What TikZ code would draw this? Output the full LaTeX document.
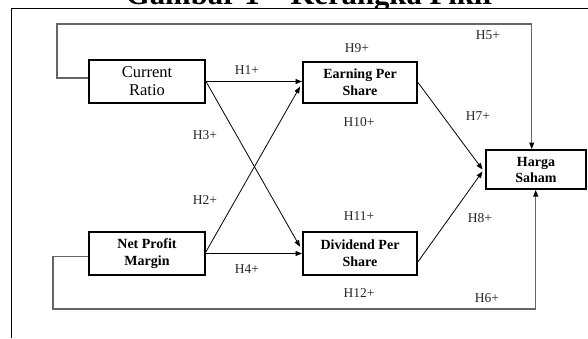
\documentclass[tikz,border=0pt]{standalone}
\usepackage{fontspec}
\setmainfont{Liberation Serif}
\usetikzlibrary{arrows.meta}
\begin{document}
\begin{tikzpicture}[x=1pt,y=-1pt,
  box/.style={draw, line width=2.4pt, inner sep=0pt, align=center},
  boxb/.style={box, font=\fontsize{14}{17}\selectfont\bfseries},
  boxr/.style={box, font=\fontsize{16.5}{18}\selectfont},
  lbl/.style={font=\fontsize{13.5}{14}\selectfont, text=black!85, inner sep=0pt},
  arr/.style={line width=0.8pt, -{Triangle[length=6.5pt,width=5pt]}},
  fb/.style={line width=1.1pt, draw=black!60, -{Triangle[length=6.5pt,width=5pt,color=black]}}]
\useasboundingbox (0,0) rectangle (588,338);
\begin{scope}
\clip (0,0) rectangle (588,7);
\node[anchor=base, inner sep=0pt, font=\fontsize{30.7}{31}\selectfont\bfseries] (title) at (311,4.3) {Gambar 1 – Kerangka Pikir};
\end{scope}
% frame
\draw[line width=0.9pt] (11,338) -- (11,8) -- (588,8);
% boxes
\node[boxr, minimum width=115.6pt, minimum height=42.6pt] (cr) at (147,81.5) {Current\\Ratio};
\node[boxb, minimum width=113.6pt, minimum height=40.6pt] (eps) at (360,82.5) {Earning Per\\Share};
\node[boxb, minimum width=115.6pt, minimum height=42.6pt] (npm) at (147,253.5) {Net Profit\\Margin};
\node[boxb, minimum width=113.6pt, minimum height=42.6pt] (dps) at (360,253.5) {Dividend Per\\Share};
\node[boxb, minimum width=99.6pt, minimum height=38.6pt, font=\fontsize{14}{16}\selectfont\bfseries] (hs) at (536,169.5) {Harga\\Saham};
% arrows
\draw[arr] (cr.east) -- (cr.east -| eps.west);
\draw[arr] (npm.east) -- (npm.east -| dps.west);
\draw[arr] (cr.east) -- ([xshift=-2pt,yshift=6.8pt]dps.west);
\draw[arr] ([yshift=1.8pt]npm.east) -- ([xshift=-2pt,yshift=-4.2pt]eps.west);
\draw[arr] (eps.east) -- ([xshift=-2.5pt]hs.west);
\draw[arr] ([yshift=-8.2pt]dps.east) -- ([xshift=-2.5pt,yshift=-2pt]hs.west);
% feedback loops
\coordinate (c5) at (57,24);
\coordinate (d5) at (531.7,24);
\draw[fb] ([yshift=3.5pt]cr.west) -| (c5) -- (d5) -- (d5 |- hs.north);
\coordinate (c6) at (53,309);
\coordinate (d6) at (535.7,309);
\draw[fb] ([yshift=-3.2pt]npm.west) -| (c6) -- (d6) -- (d6 |- hs.south);
% labels
\node[lbl] (h1) at (247,70) {H1+};
\node[lbl] (h2) at (205,200) {H2+};
\node[lbl] (h3) at (205,135) {H3+};
\node[lbl] (h4) at (247,269) {H4+};
\node[lbl] (h5) at (488,35) {H5+};
\node[lbl] (h6) at (487,298) {H6+};
\node[lbl] (h7) at (478,116) {H7+};
\node[lbl] (h8) at (480,218.5) {H8+};
\node[lbl] (h9) at (357,48) {H9+};
\node[lbl] (h10) at (359,122) {H10+};
\node[lbl] (h11) at (359,216) {H11+};
\node[lbl] (h12) at (359,293) {H12+};
\end{tikzpicture}
\end{document}
